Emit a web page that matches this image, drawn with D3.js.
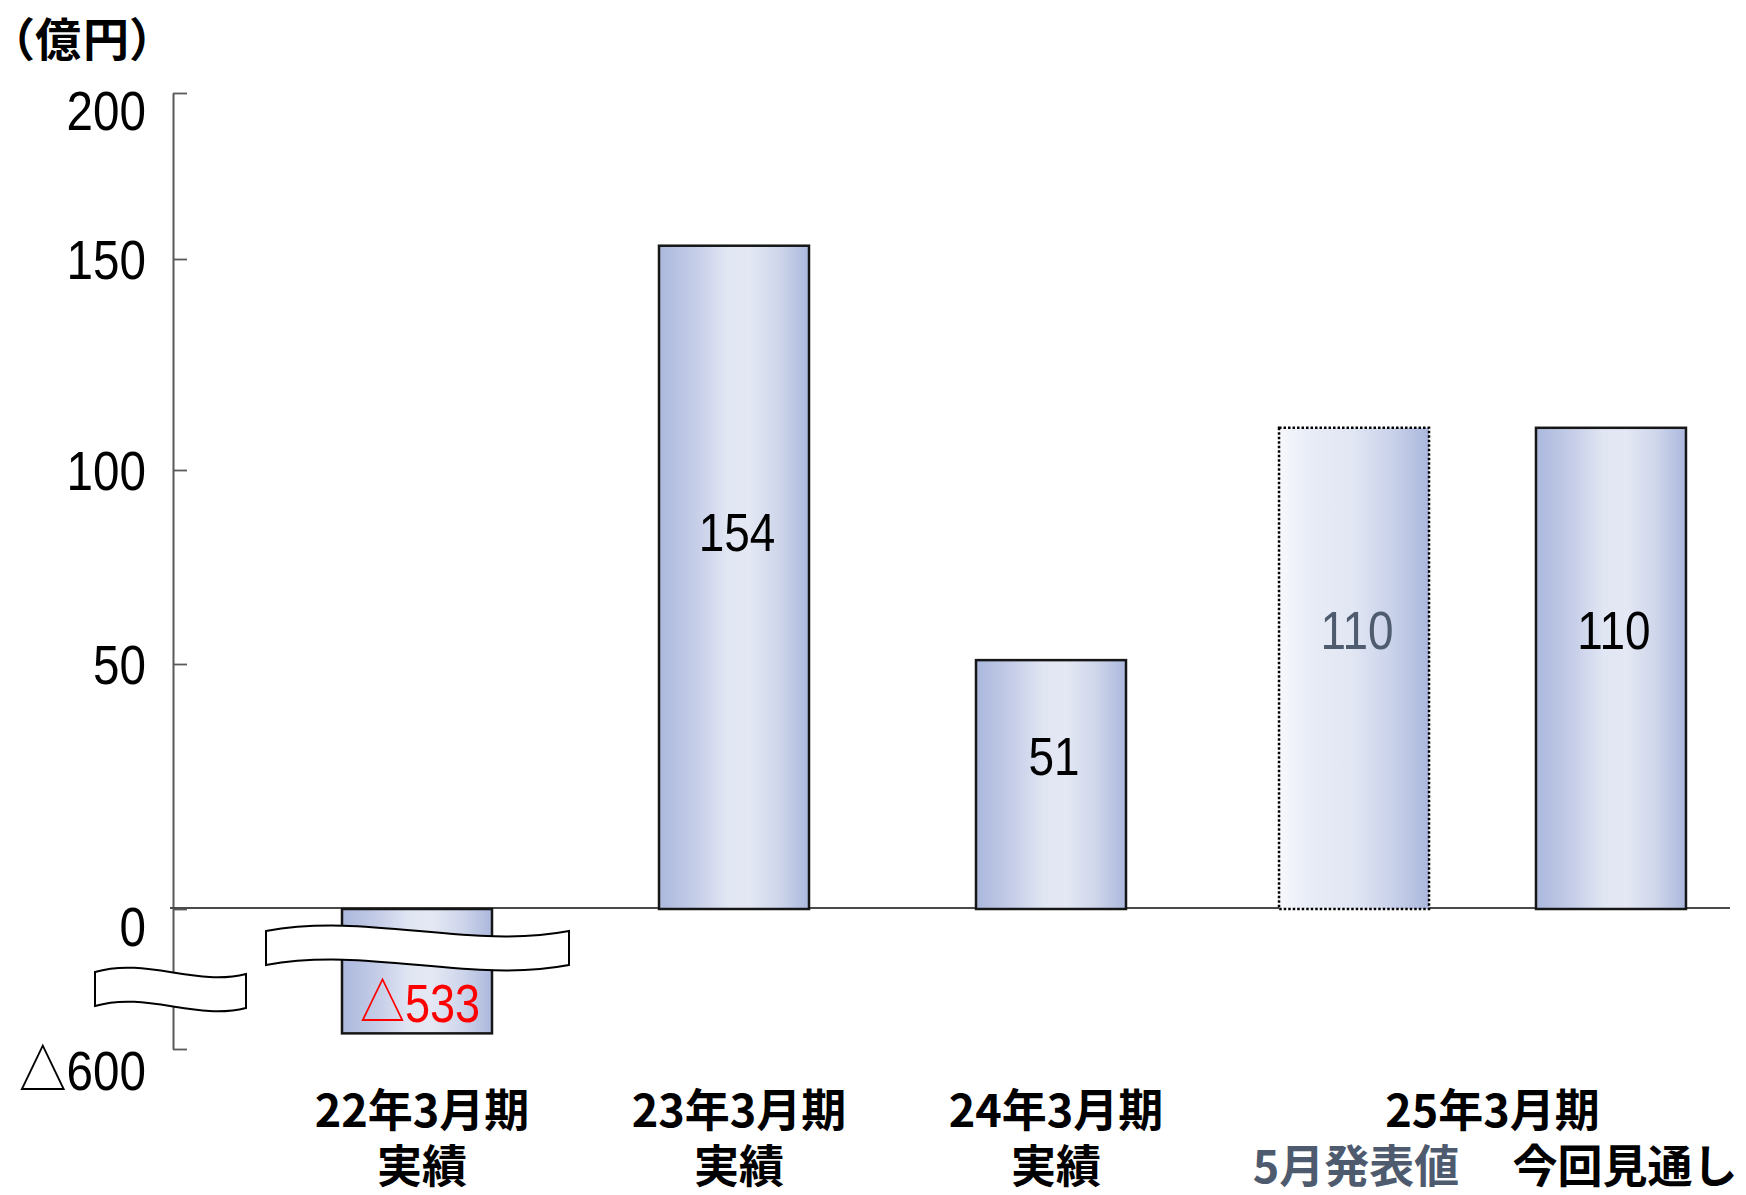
<!DOCTYPE html>
<html><head><meta charset="utf-8">
<script src="https://cdn.jsdelivr.net/npm/d3@7"></script>
<style>html,body{margin:0;padding:0;background:#fff;} svg{display:block;}</style>
</head><body>
<svg id="chart" width="1746" height="1195"></svg>
<script>
// ---- data ----
const singleCategories = ["22年3月期", "23年3月期", "24年3月期"];
const singleValues = [-533, 154, 51];
const singleSeriesLabel = "実績";
const groupCategory = "25年3月期";
const groupSeries = ["5月発表値", "今回見通し"];
const groupValues = [110, 110];
const yTickValues = [-600, 0, 50, 100, 150, 200];
const unitLabel = "（億円）";

const fmt = v => v < 0 ? "△" + Math.abs(v) : String(v);

// ---- layout ----
const svg = d3.select("#chart");
const JP = '"Noto Sans CJK JP","Noto Sans CJK SC",sans-serif';
const NUM = '"Liberation Sans","Arial","Noto Sans CJK JP",sans-serif';
const SX = 0.85;          // horizontal squeeze for the narrow numeral face
const axisX = 173;
const barW = 150;

// broken, non-uniform value axis as drawn in the original
const y = d3.scaleLinear().domain(yTickValues).range([1049, 909, 664, 470, 259, 93]);
const xSingle = d3.scalePoint().domain(singleCategories).range([417, 1051]);
const xGroup = d3.scaleBand().domain(groupSeries).range([1279, 1686]).paddingInner(0.416).paddingOuter(0);

// gradients
const defs = svg.append("defs");
function grad(id, stops) {
  const g = defs.append("linearGradient").attr("id", id).attr("x1", 0).attr("x2", 1).attr("y1", 0).attr("y2", 0);
  stops.forEach(([o, c]) => g.append("stop").attr("offset", o).attr("stop-color", c));
}
grad("gSolid", [[0, "#abb8dd"], [0.25, "#c6cee8"], [0.45, "#e1e6f3"], [0.6, "#e4e8f4"], [0.8, "#cfd6eb"], [1, "#abb8dd"]]);
grad("gFaint", [[0, "#f7f8fc"], [0.2, "#e8ecf6"], [0.5, "#e1e6f3"], [0.75, "#cad2ea"], [1, "#abb8dd"]]);

// title
svg.append("text").attr("x", 10).attr("y", 56)
  .style("font-family", JP).style("font-weight", 700).style("font-size", "46px")
  .style("font-feature-settings", '"palt"').style("letter-spacing", "2px")
  .attr("fill", "#000").text(unitLabel);

// axis
const yAxis = d3.axisLeft(y).tickValues(yTickValues).tickFormat(fmt)
  .tickSizeInner(-14).tickSizeOuter(0).tickPadding(27);
const ag = svg.append("g").attr("transform", `translate(${axisX},0)`).call(yAxis);
ag.select(".domain").attr("stroke", "#595959").attr("stroke-width", 2);
ag.selectAll(".tick line").attr("stroke", "#595959").attr("stroke-width", 1.8);
const extremes = [d3.min(yTickValues), 0, d3.max(yTickValues)];
ag.selectAll(".tick text")
  .style("font-family", NUM).style("font-size", "56px").attr("fill", "#000")
  .attr("x", -27 / SX)
  .attr("transform", `scale(${SX},1)`)
  .attr("dy", "0.35em")
  .attr("y", d => extremes.includes(d) ? (d < 0 ? 21 : 17) : 0);

// baseline
svg.append("line").attr("x1", axisX - 3).attr("x2", 1730).attr("y1", y(0) - 1).attr("y2", y(0) - 1)
  .attr("stroke", "#4a4a4a").attr("stroke-width", 2);

// bars
const bars = singleCategories.map((c, i) => ({ key: c, cx: xSingle(c), v: singleValues[i], faint: false }))
  .concat(groupSeries.map((s, i) => ({ key: s, cx: xGroup(s) + xGroup.bandwidth() / 2, v: groupValues[i], faint: i === 0 })));

svg.append("g").selectAll("rect").data(bars).join("rect")
  .attr("x", d => d.cx - barW / 2)
  .attr("y", d => Math.min(y(d.v), y(0)))
  .attr("width", barW)
  .attr("height", d => Math.abs(y(d.v) - y(0)))
  .attr("fill", d => d.faint ? "url(#gFaint)" : "url(#gSolid)")
  .attr("stroke", d => d.faint ? "#000" : "#161616")
  .attr("stroke-width", 2.5)
  .attr("stroke-dasharray", d => d.faint ? "2.5 2" : null);

// value labels
svg.append("g").selectAll("text").data(bars).join("text")
  .attr("transform", `scale(${SX},1)`)
  .attr("x", d => (d.cx + 3) / SX)
  .attr("y", d => d.v >= 0 ? y(d.v) + 0.46 * (y(0) - y(d.v)) : y(d.v) - 11)
  .attr("text-anchor", "middle")
  .style("font-family", NUM)
  .style("font-size", d => d.v < 0 ? "53px" : "54px")
  .attr("fill", d => d.v < 0 ? "#ff0000" : (d.faint ? "#4f5b6e" : "#000"))
  .text(d => fmt(d.v));

// break marks (wavy white bands)
function breakBand(x0, x1, yTop, h, a, dyR) {
  const w = x1 - x0;
  const p = d3.path();
  p.moveTo(x0, yTop);
  p.bezierCurveTo(x0 + 0.34 * w, yTop - a, x0 + 0.67 * w, yTop + a, x1, yTop + dyR);
  p.lineTo(x1, yTop + dyR + h);
  p.bezierCurveTo(x0 + 0.67 * w, yTop + a + h, x0 + 0.34 * w, yTop - a + h, x0, yTop + h);
  p.closePath();
  svg.append("path").attr("d", p.toString())
    .attr("fill", "#fff").attr("stroke", "#000").attr("stroke-width", 2);
}
const cx0 = xSingle(singleCategories[0]);
breakBand(axisX - 78, axisX + 73, y(0) + 63, 34, 15, 2);
breakBand(cx0 - 151, cx0 + 152, y(0) + 22, 34, 19, 0);

// category labels (two lines each, one text element)
const catG = svg.append("g").style("font-family", JP).style("font-weight", 700).style("font-size", "45px").attr("text-anchor", "middle");
singleCategories.forEach(c => {
  const t = catG.append("text").attr("fill", "#000");
  t.append("tspan").attr("x", xSingle(c) + 5).attr("y", 1127).text(c);
  t.append("tspan").attr("x", xSingle(c) + 5).attr("y", 1183).text(singleSeriesLabel);
});
const gc = (xGroup.range()[0] + xGroup.range()[1]) / 2;
catG.append("text").attr("x", gc + 10).attr("y", 1127).attr("fill", "#000").text(groupCategory);
groupSeries.forEach((s, i) => {
  catG.append("text").attr("x", xGroup(s) + xGroup.bandwidth() / 2 + (i === 0 ? 2 : 14)).attr("y", 1183)
    .attr("fill", i === 0 ? "#4e5a6e" : "#000").text(s);
});
</script>
</body></html>
